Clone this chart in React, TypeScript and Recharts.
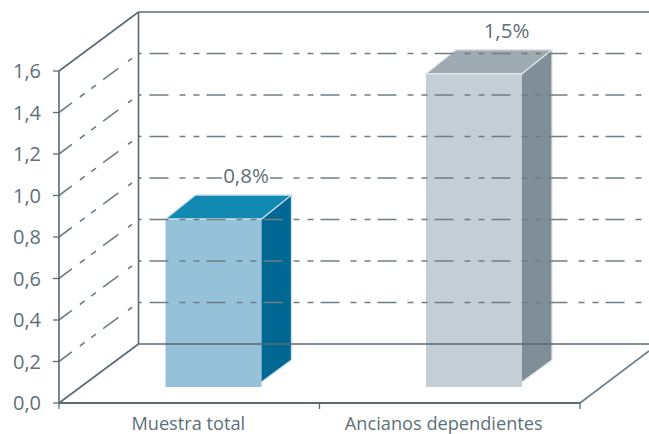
import { BarChart, Bar, XAxis, YAxis, ReferenceLine, LabelList } from 'recharts';

const categories = ['Muestra total', 'Ancianos dependientes'];
const values = [0.8, 1.5];
const valueLabels = ['0,8%', '1,5%'];
const yTicks = [0, 0.2, 0.4, 0.6, 0.8, 1.0, 1.2, 1.4, 1.6];
const gridValues = [0.2, 0.4, 0.6, 0.8, 1.0, 1.2, 1.4];
const frontColors = ['#95c1d9', '#c5cdd5'];
const topColors = ['#1289b0', '#9fabb3'];
const sideColors = ['#006893', '#7f8e97'];
const edgeColors = ['#c9e2ee', '#dfe5ea'];

const chartData = categories.map((name, i) => ({ name, value: values[i] }));

const FONT = '"Open Sans", sans-serif';
const TEXT = '#5f6f78';
const FRAME = '#5a6a74';
const GRID = '#6f7d86';
const DX = 79.5; // floor depth
const DY = 59;
const BAR_DX = 30;
const BAR_DY = 24;
const BAR_SHIFT = 24.5;
const BAND = 130.25; // half a category
const RIGHT_EDGE = 649;

function GridLine({ x1, y1, y2 }: any) {
  const backY = y2 - DY;
  return (
    <g fill="none" stroke={GRID} strokeWidth={1.6}>
      <line
        x1={x1}
        y1={y1}
        x2={x1 + DX}
        y2={y1 - DY}
        strokeDasharray="16 10 6 8 6 9 19 12 5 40"
      />
      <line x1={x1 + DX} y1={backY} x2={x1 + DX + 3} y2={backY} />
      <line
        x1={x1 + DX + 11}
        y1={backY}
        x2={RIGHT_EDGE}
        y2={backY}
        strokeDasharray="19 11 6 8 6 7"
      />
    </g>
  );
}

function FloorLine({ x1, y1, x2 }: any) {
  return (
    <g fill="none" stroke={FRAME} strokeWidth={1.6}>
      <line x1={x1} y1={y1} x2={x1 + DX} y2={y1 - DY} />
      <line x1={x1 + DX} y1={y1 - DY} x2={RIGHT_EDGE} y2={y1 - DY} />
      <line x1={x2} y1={y1} x2={RIGHT_EDGE} y2={y1 - 52} stroke={GRID} />
    </g>
  );
}

function TopLine({ x1, y1 }: any) {
  return (
    <g fill="none" stroke={FRAME} strokeWidth={1.6}>
      <line x1={x1} y1={y1} x2={x1 + DX} y2={y1 - DY} />
      <line x1={x1 + DX} y1={y1 - DY} x2={RIGHT_EDGE} y2={y1 - DY} />
      <line x1={x1 + DX} y1={y1 - DY} x2={x1 + DX} y2={y1 - DY + 332} />
    </g>
  );
}

function Box3D({ x, y, width, height, index }: any) {
  const left = x + BAR_SHIFT;
  const right = left + width;
  const top = y - 18;
  const bottom = y + height - 16;
  const edge = edgeColors[index];
  return (
    <g>
      <polygon
        points={`${left - 3},${bottom} ${left - 3},${top - 1} ${left + BAR_DX},${top - BAR_DY - 1} ${right + BAR_DX + 3},${top - BAR_DY - 1} ${right + BAR_DX + 3},${bottom - 27} ${right},${bottom}`}
        fill="#fff"
      />
      <rect x={left} y={top} width={width} height={bottom - top} fill={frontColors[index]} />
      <polygon
        points={`${left},${top} ${left + BAR_DX},${top - BAR_DY} ${right + BAR_DX},${top - BAR_DY} ${right},${top}`}
        fill={topColors[index]}
      />
      <polygon
        points={`${right},${top} ${right + BAR_DX},${top - BAR_DY} ${right + BAR_DX},${bottom - 27} ${right},${bottom - 5}`}
        fill={sideColors[index]}
      />
      <path
        d={`M${left},${top} L${left + BAR_DX},${top - BAR_DY} L${right + BAR_DX},${top - BAR_DY} L${right},${top} Z M${right + BAR_DX},${top - BAR_DY} L${right + BAR_DX},${bottom - 27} L${right},${bottom - 5}`}
        fill="none"
        stroke={edge}
        strokeWidth={1.3}
      />
    </g>
  );
}

function ValueLabel({ x, y, index }: any) {
  const cx = x + 48 + BAR_SHIFT + 32.5;
  const baseY = y - 54;
  return (
    <g>
      <rect x={cx - 24} y={baseY - 16} width={48} height={20} fill="#fff" />
      <text x={cx} y={baseY} textAnchor="middle" fontFamily={FONT} fontSize={20.5} fill={TEXT}>
        {valueLabels[index]}
      </text>
    </g>
  );
}

const labelShift = [-1, -6];

function CategoryTick({ x, y, payload, index }: any) {
  const i = payload.index ?? index;
  return (
    <g>
      <line x1={x - BAND} y1={y - 1} x2={x - BAND} y2={y + 6} stroke={FRAME} strokeWidth={1.3} />
      {i === categories.length - 1 && (
        <line x1={x + BAND} y1={y - 1} x2={x + BAND} y2={y + 6} stroke={FRAME} strokeWidth={1.3} />
      )}
      <text x={x + labelShift[i]} y={y + 27} textAnchor="middle" fontFamily={FONT} fontSize={18.2} fill={TEXT}>
        {payload.value}
      </text>
    </g>
  );
}

export default function App() {
  return (
    <div style={{ position: 'absolute', left: 0, top: 0, width: 649, height: 434, background: '#fff' }}>
      <BarChart
        width={649}
        height={434}
        data={chartData}
        margin={{ top: 71, right: 69, left: 0, bottom: 0 }}
        barCategoryGap={0}
      >
        <YAxis
          width={59}
          domain={[0, 1.6]}
          ticks={yTicks}
          interval={0}
          tickSize={6}
          tickMargin={12}
          tickFormatter={(v: number) => v.toFixed(1).replace('.', ',')}
          tick={{ fontSize: 20, fontFamily: FONT, fill: TEXT }}
          axisLine={{ stroke: FRAME, strokeWidth: 1.6 }}
          tickLine={{ stroke: FRAME, strokeWidth: 1.3 }}
        />
        <XAxis
          dataKey="name"
          height={31}
          interval={0}
          tick={<CategoryTick />}
          tickLine={false}
          tickSize={0}
          tickMargin={0}
          axisLine={{ stroke: FRAME, strokeWidth: 2 }}
        />
        {gridValues.map((v) => (
          <ReferenceLine key={v} y={v} shape={<GridLine />} />
        ))}
        <ReferenceLine y={0} shape={<FloorLine />} />
        <ReferenceLine y={1.6} shape={<TopLine />} />
        <Bar dataKey="value" barSize={96} isAnimationActive={false} shape={<Box3D />}>
          <LabelList dataKey="value" content={<ValueLabel />} />
        </Bar>
      </BarChart>
    </div>
  );
}
